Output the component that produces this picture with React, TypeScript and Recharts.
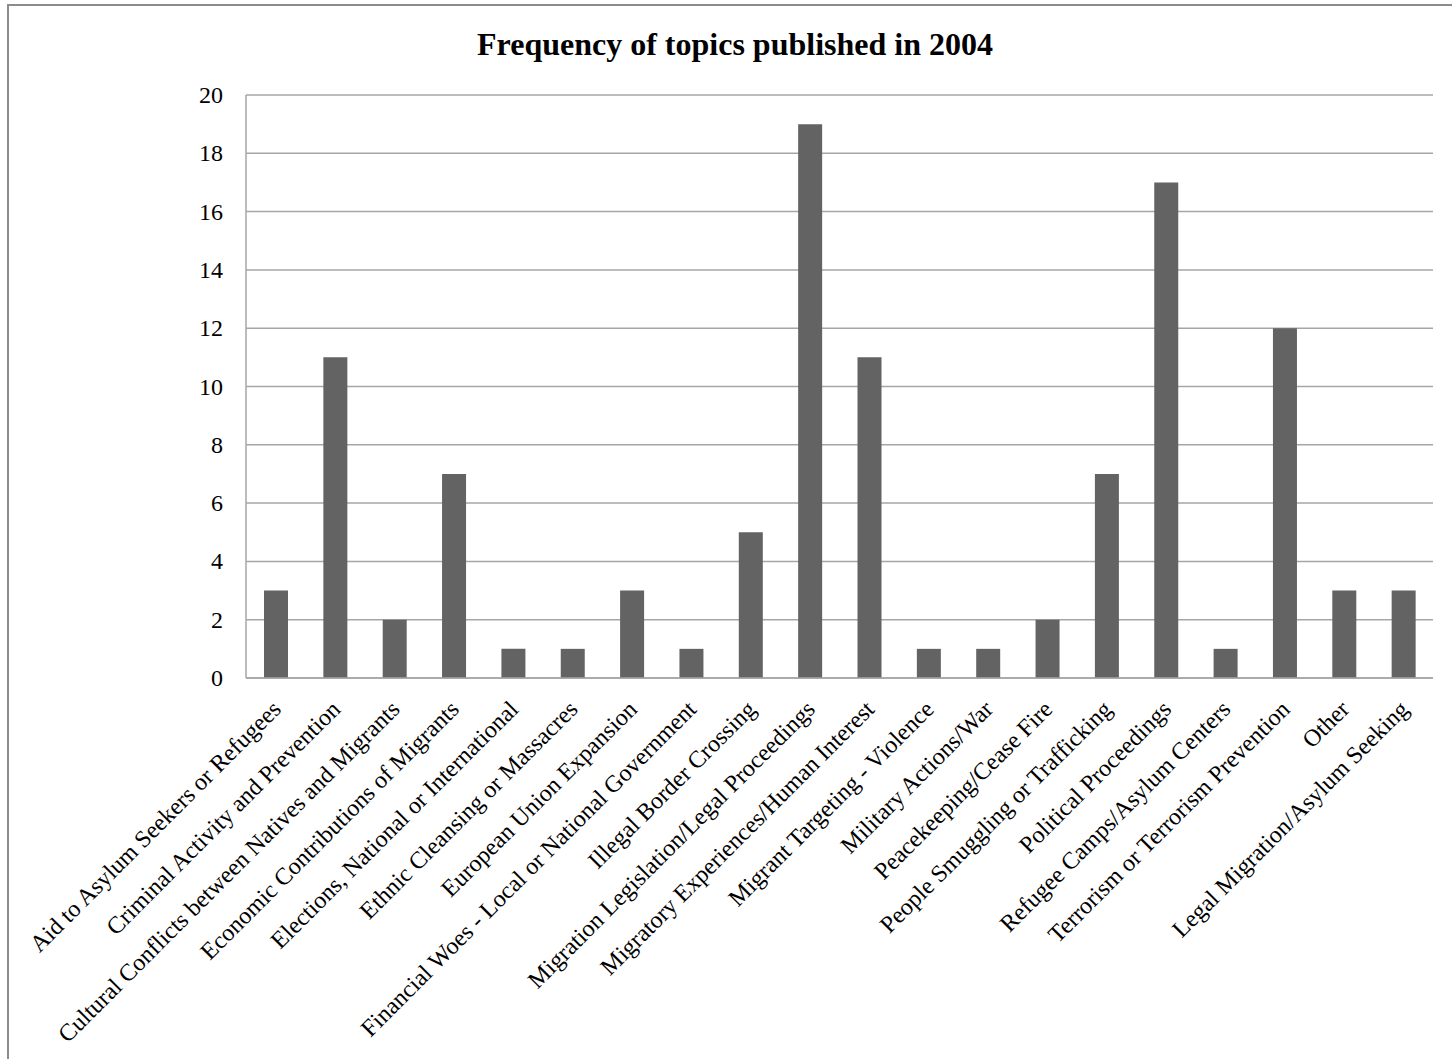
import React from "react";
import { BarChart, Bar, XAxis, YAxis, CartesianGrid } from "recharts";

const topics = [
  "Aid to Asylum Seekers or Refugees",
  "Criminal Activity and Prevention",
  "Cultural Conflicts between Natives and Migrants",
  "Economic Contributions of Migrants",
  "Elections, National or International",
  "Ethnic Cleansing or Massacres",
  "European Union Expansion",
  "Financial Woes - Local or National Government",
  "Illegal Border Crossing",
  "Migration Legislation/Legal Proceedings",
  "Migratory Experiences/Human Interest",
  "Migrant Targeting - Violence",
  "Military Actions/War",
  "Peacekeeping/Cease Fire",
  "People Smuggling or Trafficking",
  "Political Proceedings",
  "Refugee Camps/Asylum Centers",
  "Terrorism or Terrorism Prevention",
  "Other",
  "Legal Migration/Asylum Seeking",
];

const frequency = [3, 11, 2, 7, 1, 1, 3, 1, 5, 19, 11, 1, 1, 2, 7, 17, 1, 12, 3, 3];

const yTicks = [0, 2, 4, 6, 8, 10, 12, 14, 16, 18, 20];

const title = "Frequency of topics published in 2004";

const data = topics.map((topic, i) => ({ topic, count: frequency[i] }));

const FONT = '"Liberation Serif", "Times New Roman", serif';
const GRID = "#a6a6a6";

function TopicTick(props: any) {
  const { x, y, payload } = props;
  const tx = x + 1;
  const ty = y + 27;
  return (
    <text
      x={tx}
      y={ty}
      transform={`rotate(-45, ${tx}, ${ty})`}
      textAnchor="end"
      dominantBaseline="central"
      fontFamily={FONT}
      fontSize={24}
      fill="#000"
    >
      {payload.value}
    </text>
  );
}

function CountTick(props: any) {
  const { x, y, payload } = props;
  return (
    <text
      x={x}
      y={y}
      textAnchor="end"
      dominantBaseline="central"
      fontFamily={FONT}
      fontSize={24}
      fill="#000"
    >
      {payload.value}
    </text>
  );
}

export default function App() {
  return (
    <div style={{ position: "absolute", left: 0, top: 0, width: 1452, height: 1059, overflow: "hidden", background: "#fff" }}>
      <div
        style={{
          position: "absolute",
          left: 7,
          top: 4,
          width: 1470,
          height: 1100,
          border: "2px solid #8c8c8c",
          boxSizing: "border-box",
        }}
      />
      <BarChart
        width={1452}
        height={1059}
        data={data}
        margin={{ top: 95, right: 19, bottom: 81, left: 0 }}
        barCategoryGap={0}
        style={{ position: "absolute", left: 0, top: 0 }}
      >
        <text
          x={735}
          y={55}
          textAnchor="middle"
          fontFamily={FONT}
          fontSize={32}
          fontWeight="bold"
          fill="#000"
        >
          {title}
        </text>
        <CartesianGrid vertical={false} stroke={GRID} strokeWidth={1.5} />
        <XAxis
          dataKey="topic"
          interval={0}
          height={300}
          tickLine={false}
          tickSize={0}
          tickMargin={0}
          axisLine={{ stroke: GRID, strokeWidth: 1.5 }}
          tick={<TopicTick />}
        />
        <YAxis
          width={246}
          domain={[0, 20]}
          ticks={yTicks}
          interval={0}
          tickLine={false}
          tickSize={0}
          tickMargin={23}
          axisLine={{ stroke: GRID, strokeWidth: 1.5 }}
          tick={<CountTick />}
        />
        <Bar dataKey="count" fill="#636363" barSize={24} isAnimationActive={false} />
      </BarChart>
    </div>
  );
}
